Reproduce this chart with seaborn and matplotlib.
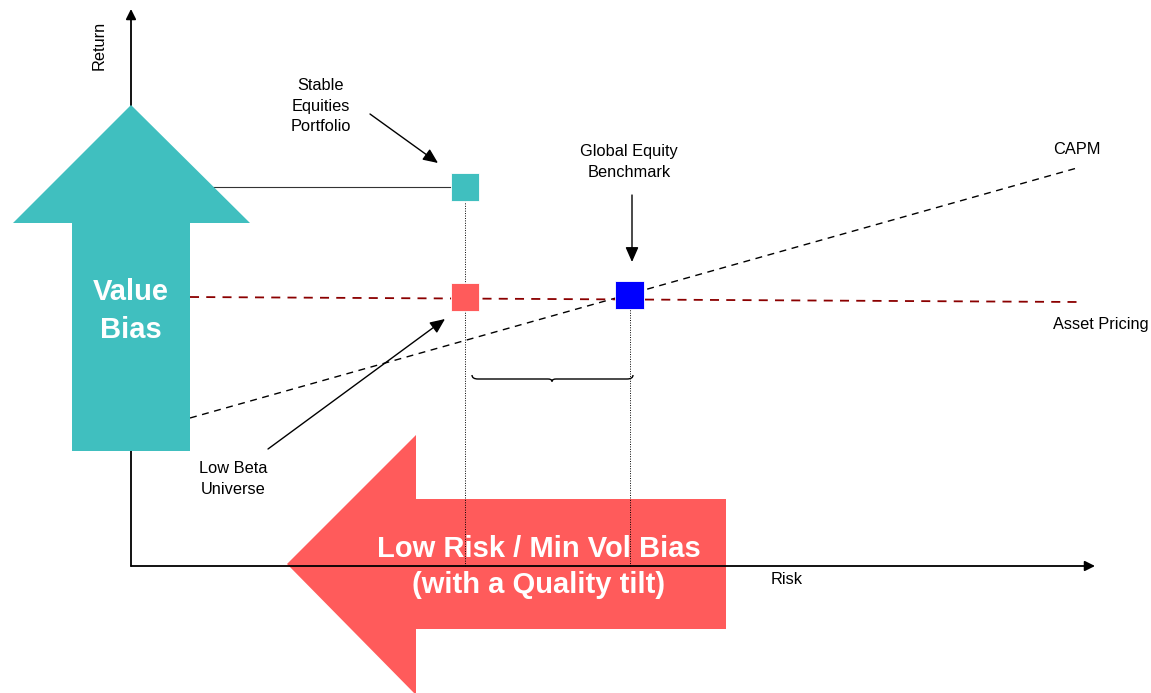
import matplotlib
matplotlib.use("Agg")
import matplotlib.pyplot as plt
from matplotlib.patches import Polygon, PathPatch
from matplotlib.path import Path
import seaborn as sns
import pandas as pd

sns.set_theme(style="white")
plt.rcParams['font.family'] = ['Liberation Sans', 'DejaVu Sans']
plt.rcParams['text.color'] = 'black'

# ---- data (risk / return units, origin at axes crossing) ----
portfolios = ["Stable Equities Portfolio", "Low Beta Universe", "Global Equity Benchmark"]
risk = [334, 334, 498.5]
ret = [379, 269, 271]
colors = ["#40BFBF", "#FF5B5B", "#0000FF"]

capm_risk = [59, 946]
capm_ret = [148, 398]
ap_risk = [59, 946]
ap_ret = [269, 264]

axis_risk_max = 964
axis_ret_max = 557

df = pd.DataFrame({"portfolio": portfolios, "risk": risk, "ret": ret})

fig = plt.figure(figsize=(11.51, 6.93), dpi=100)
ax = fig.add_axes([0, 0, 1, 1])
ax.set_xlim(-131, 1020)
ax.set_ylim(-127, 566)
ax.axis("off")

teal = colors[0]
red = colors[1]

# Axes arrows
ax.annotate("", xy=(0, axis_ret_max), xytext=(0, 0),
            arrowprops=dict(arrowstyle="-|>", color="black", lw=1.3,
                            mutation_scale=15, shrinkA=0, shrinkB=0), zorder=3)
ax.annotate("", xy=(axis_risk_max, 0), xytext=(0, 0),
            arrowprops=dict(arrowstyle="-|>", color="black", lw=1.3,
                            mutation_scale=15, shrinkA=0, shrinkB=0), zorder=6)

# Lines
sns.lineplot(x=capm_risk, y=capm_ret, ax=ax, color="black", lw=1.0,
             linestyle=(0, (5, 4)), zorder=2)
sns.lineplot(x=ap_risk, y=ap_ret, ax=ax, color="#8B0000", lw=1.3,
             linestyle=(0, (5, 4)), zorder=2)

# horizontal from return axis to stable portfolio
ax.plot([0, risk[0] - 14], [ret[0], ret[0]], color="#333333", lw=0.8, zorder=2)
# dotted verticals
ax.plot([risk[0], risk[0]], [0, ret[0] - 14], color="black", lw=0.7,
        linestyle=(0, (1, 1.5)), zorder=6)
ax.plot([risk[2], risk[2]], [0, ret[2] - 14], color="black", lw=0.7,
        linestyle=(0, (1, 1.5)), zorder=6)

# Big arrows
value_arrow = Polygon([(0, 461), (119, 343), (59, 343), (59, 115), (-59, 115),
                       (-59, 343), (-118, 343)], closed=True,
                      facecolor=teal, edgecolor="none", zorder=4)
ax.add_patch(value_arrow)
risk_arrow = Polygon([(156, 2), (285, 131), (285, 67), (595, 67), (595, -63),
                      (285, -63), (285, -129)], closed=True,
                     facecolor=red, edgecolor="none", zorder=5)
ax.add_patch(risk_arrow)

# squares
sns.scatterplot(data=df, x="risk", y="ret", hue="portfolio", palette=colors,
                marker="s", s=430, edgecolor="white", linewidth=0.6,
                legend=False, ax=ax, zorder=7)

# brace
x0, x1, xm = 341, 502, 421
yt, yf, ytip = 191, 187, 184.5
verts = [(x0, yt), (x0, yf), (x0 + 6, yf),
         (xm - 4, yf), (xm, yf), (xm, ytip),
         (xm, yf), (xm + 4, yf), (x1 - 6, yf),
         (x1, yf), (x1, yt)]
codes = [Path.MOVETO, Path.CURVE3, Path.CURVE3,
         Path.LINETO, Path.CURVE3, Path.CURVE3,
         Path.CURVE3, Path.CURVE3, Path.LINETO,
         Path.CURVE3, Path.CURVE3]
ax.add_patch(PathPatch(Path(verts, codes), facecolor="none",
                       edgecolor="black", lw=1.0, zorder=6))

# annotation arrows
arr = dict(arrowstyle="-|>,head_length=0.5,head_width=0.22", color="black",
           lw=1.0, mutation_scale=18, shrinkA=0, shrinkB=0)
ax.annotate("", xy=(307, 403), xytext=(239, 452), arrowprops=arr, zorder=8)
ax.annotate("", xy=(501, 304), xytext=(501, 371), arrowprops=arr, zorder=8)
ax.annotate("", xy=(314, 247), xytext=(137, 117), arrowprops=arr, zorder=8)

fs = 11.8
ax.text(-32, 521, "Return", rotation=90, ha="center", va="center", fontsize=fs)
ax.text(656, -13, "Risk", ha="center", va="center", fontsize=fs)
ax.text(922, 417, "CAPM", ha="left", va="center", fontsize=fs)
ax.text(922, 242, "Asset Pricing", ha="left", va="center", fontsize=fs)
ax.text(190, 460, "Stable\nEquities\nPortfolio", ha="center", va="center",
        fontsize=fs, linespacing=1.45)
ax.text(498, 404, "Global Equity\nBenchmark", ha="center", va="center",
        fontsize=fs, linespacing=1.45)
ax.text(102, 87, "Low Beta\nUniverse", ha="center", va="center",
        fontsize=fs, linespacing=1.45)
ax.text(0, 255, "Value\nBias", ha="center", va="center", fontsize=21,
        fontweight="bold", color="white", linespacing=1.5, zorder=9)
ax.text(408, -1, "Low Risk / Min Vol Bias\n(with a Quality tilt)", ha="center",
        va="center", fontsize=21, fontweight="bold", color="white",
        linespacing=1.35, zorder=9)

fig.savefig("out.png", dpi=100)
